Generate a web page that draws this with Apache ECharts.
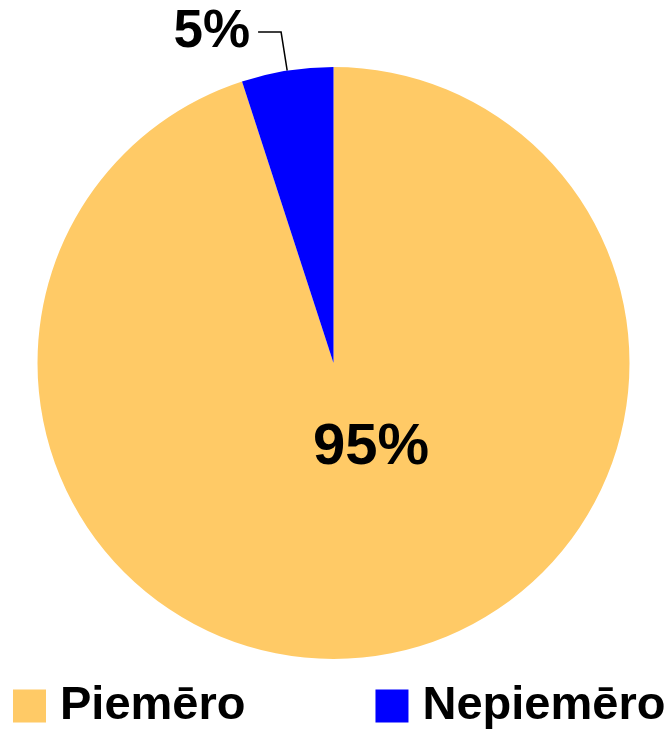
<!DOCTYPE html>
<html>
<head>
<meta charset="utf-8">
<script src="https://cdn.jsdelivr.net/npm/echarts@6/dist/echarts.min.js"></script>
<style>
html,body{margin:0;padding:0;background:#fff;}
#chart{width:671px;height:729px;}
</style>
</head>
<body>
<div id="chart"></div>
<script>
const categories = ['Piemēro', 'Nepiemēro'];
const values = [95, 5];
const colors = ['#FFCA66', '#0000FF'];

const chart = echarts.init(document.getElementById('chart'), null, {renderer: 'canvas'});
const data = categories.map((c, i) => ({
  name: c,
  value: values[i],
  itemStyle: {color: colors[i]},
  label: i === 0
    ? {position: 'inside', fontSize: 58}
    : {position: 'outside', fontSize: 53},
  labelLine: {show: i !== 0}
}));

chart.setOption({
  animation: false,
  legend: {
    left: 13,
    top: 682,
    width: 660,
    padding: 0,
    icon: 'rect',
    itemWidth: 33,
    itemHeight: 33,
    itemGap: 130,
    textStyle: {
      fontFamily: 'Liberation Sans, Arial, sans-serif',
      fontSize: 47,
      fontWeight: 'bold',
      color: '#000',
      lineHeight: 48,
      padding: [0, 0, 0, 9]
    },
    data: categories
  },
  series: [{
    type: 'pie',
    center: [333.5, 363],
    radius: 296,
    startAngle: 90,
    clockwise: true,
    avoidLabelOverlap: false,
    itemStyle: {borderWidth: 0},
    label: {
      show: true,
      formatter: '{d}%',
      fontFamily: 'Liberation Sans, Arial, sans-serif',
      fontWeight: 'bold',
      color: '#000',
      distanceToLabelLine: 8
    },
    labelLine: {
      show: true,
      length: 39,
      length2: 23,
      smooth: false,
      lineStyle: {color: '#000', width: 1.5}
    },
    labelLayout: function (p) {
      if (p.dataIndex === 0) return {dx: 14, dy: -64};
      return {};
    },
    emphasis: {disabled: true},
    data: data
  }]
});
</script>
</body>
</html>
